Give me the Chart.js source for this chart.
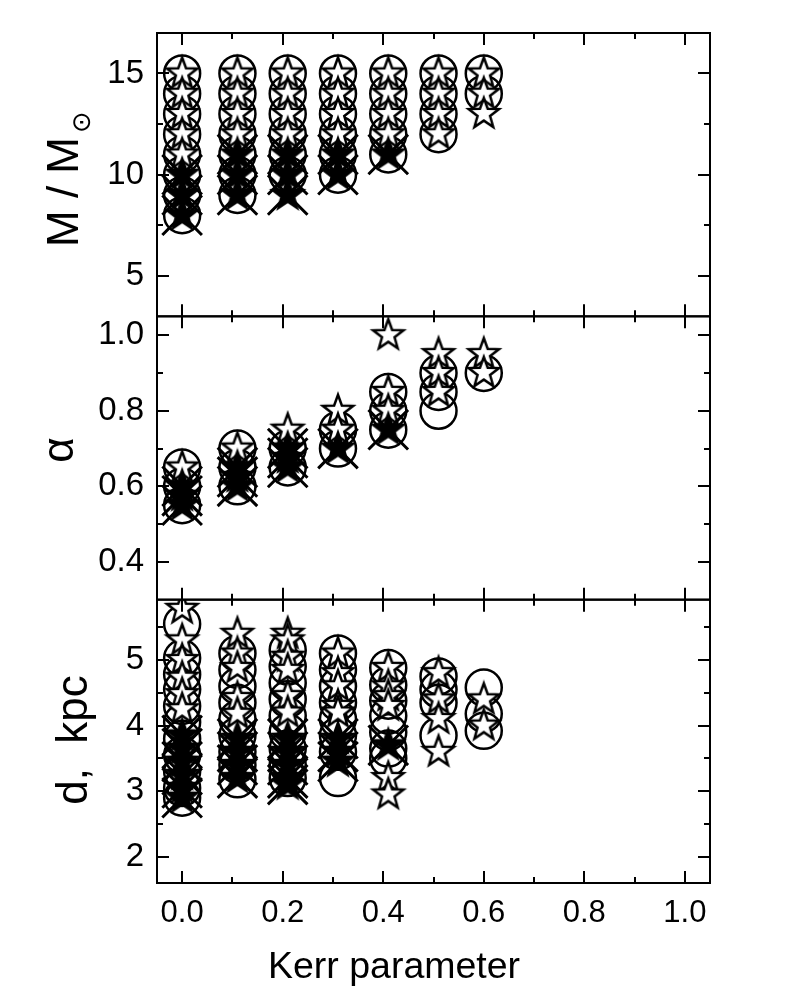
<!DOCTYPE html>
<html>
<head>
<meta charset="utf-8">
<script src="https://cdn.jsdelivr.net/npm/chart.js@4.4.0/dist/chart.umd.min.js"></script>
<style>
  html, body { margin: 0; padding: 0; background: #fff; }
  #wrap { width: 788px; height: 998px; }
</style>
</head>
<body>
<div id="wrap"><canvas id="chart" width="788" height="998"></canvas></div>
<script>
// Kerr parameter columns (x positions of the model grid)
const kerr = [0, 0.11, 0.21, 0.31, 0.41, 0.51, 0.60]
const xTicks = [0, 0.2, 0.4, 0.6, 0.8, 1.0]
const xMinor = [0.1, 0.3, 0.5, 0.7, 0.9]

// Top panel: M / Msun, one list per Kerr column
const massTicks = [5, 10, 15]
const massMinor = [7.5, 12.5]
const massCircles = [
  [15, 14, 13, 12, 11, 10, 9, 8],
  [15, 14, 13, 12, 11, 10, 9],
  [15, 14, 13, 12, 11, 10],
  [15, 14, 13, 12, 11, 10],
  [15, 14, 13, 12, 11],
  [15, 14, 13, 12],
  [15, 14]
]
const massStars = [
  [15, 14, 13, 12, 11],
  [15, 14, 13, 12],
  [15, 14, 13, 12],
  [15, 14, 13, 12],
  [15, 14, 13, 12],
  [15, 14, 13, 12],
  [15, 14, 13]
]
const massCrossed = [
  [10, 9, 8],
  [11, 10, 9],
  [11, 10, 9],
  [11, 10],
  [11],
  [],
  []
]

// Middle panel: alpha
const alphaTicks = [0.4, 0.6, 0.8, 1.0]
const alphaMinor = [0.5, 0.7, 0.9]
const alphaCircles = [
  [0.65, 0.6, 0.55],
  [0.7, 0.65, 0.6],
  [0.7, 0.65],
  [0.75, 0.7],
  [0.85, 0.8, 0.75],
  [0.9, 0.85, 0.8],
  [0.9]
]
const alphaStars = [
  [0.65],
  [0.7],
  [0.75],
  [0.8, 0.75],
  [1.0, 0.85, 0.8],
  [0.95, 0.9, 0.85],
  [0.95, 0.9]
]
const alphaCrossed = [
  [0.6, 0.575, 0.55],
  [0.65, 0.625, 0.6],
  [0.7, 0.675, 0.65],
  [0.7],
  [0.75],
  [],
  []
]

// Bottom panel: distance, kpc
const distTicks = [2, 3, 4, 5]
const distMinor = [2.5, 3.5, 4.5, 5.5]
const distCircles = [
  [5.55, 5.03, 4.78, 4.55, 4.3, 4.05, 3.8, 3.55, 3.3, 3.05, 2.9],
  [5.1, 4.85, 4.6, 4.35, 4.1, 3.85, 3.6, 3.4, 3.18],
  [5.15, 4.9, 4.65, 4.4, 4.15, 3.9, 3.65, 3.4, 3.2],
  [5.1, 4.85, 4.6, 4.35, 4.1, 3.85, 3.6, 3.2],
  [4.88, 4.62, 4.38, 4.15, 3.9, 3.65, 3.5],
  [4.75, 4.55, 4.35, 3.85],
  [4.58, 4.18, 3.92]
]
const distStars = [
  [5.78, 5.3, 5.0, 4.73, 4.48, 4.25],
  [5.4, 5.1, 4.88, 4.42, 4.18],
  [5.4, 5.3, 5.05, 4.85, 4.45, 4.2],
  [5.1, 4.8, 4.6, 4.3, 4.2],
  [4.88, 4.6, 4.45, 4.3, 3.2, 2.95],
  [4.8, 4.4, 4.1, 3.6],
  [4.4, 4.0]
]
const distCrossed = [
  [3.85, 3.65, 3.45, 3.25, 3.05, 2.9],
  [3.8, 3.6, 3.4, 3.2],
  [3.8, 3.6, 3.4, 3.2, 3.1],
  [3.8, 3.6, 3.45],
  [3.7],
  [],
  []
]

const FONT = '"Liberation Sans", Arial, sans-serif'

function toPoints(cols) {
  return cols.flatMap((ys, i) => ys.map(y => ({ x: kerr[i], y: y })))
}

// five-pointed star marker drawn on a small canvas
function starMarker(fill) {
  const R = 16, r = 6.6, size = 40
  const cv = document.createElement('canvas')
  cv.width = size
  cv.height = size
  const g = cv.getContext('2d')
  g.translate(size / 2, size / 2)
  g.beginPath()
  for (let i = 0; i < 10; i++) {
    const rad = i % 2 ? r : R
    const ang = -Math.PI / 2 + i * Math.PI / 5
    g.lineTo(rad * Math.cos(ang), rad * Math.sin(ang))
  }
  g.closePath()
  g.fillStyle = fill
  g.fill()
  g.lineWidth = 2.5
  g.strokeStyle = '#000'
  g.stroke()
  return cv
}

const openStar = starMarker('#fff')
const fullStar = starMarker('#000')

function panelDatasets(axis, circles, stars, crossed) {
  return [
    {
      data: toPoints(crossed), yAxisID: axis, order: 0,
      pointStyle: 'crossRot', pointRadius: 28, borderColor: '#000', borderWidth: 3,
      backgroundColor: 'rgba(0,0,0,0)'
    },
    {
      data: toPoints(crossed), yAxisID: axis, order: 1,
      pointStyle: fullStar, pointRadius: 16, borderColor: '#000', backgroundColor: '#000'
    },
    {
      data: toPoints(stars), yAxisID: axis, order: 2,
      pointStyle: openStar, pointRadius: 16, borderColor: '#000', backgroundColor: '#fff'
    },
    {
      data: toPoints(circles), yAxisID: axis, order: 3,
      pointStyle: 'circle', pointRadius: 18, borderColor: '#000', borderWidth: 2.5,
      backgroundColor: 'rgba(0,0,0,0)'
    }
  ]
}

const panels = [
  { id: 'yM', major: massTicks, minor: massMinor },
  { id: 'yA', major: alphaTicks, minor: alphaMinor },
  { id: 'yD', major: distTicks, minor: distMinor }
]

function yAxis(min, max, ticks, fmt) {
  return {
    type: 'linear', position: 'left', stack: 'panels', stackWeight: 1,
    min: min, max: max,
    grid: { display: false, drawTicks: false },
    border: { display: false },
    afterBuildTicks: s => { s.ticks = ticks.map(v => ({ value: v })) },
    afterFit: s => { s.width = 157 },
    ticks: {
      padding: 13, color: '#000', font: { family: FONT, size: 33 },
      callback: v => fmt(v)
    }
  }
}

// frame, inward tick marks, per-panel clipping and axis titles
const framePlugin = {
  id: 'frame',
  beforeDatasetDraw(chart, args) {
    const a = chart.chartArea
    const s = args.meta.yScale
    const ctx = chart.ctx
    ctx.save()
    ctx.beginPath()
    ctx.rect(a.left, s.top, a.right - a.left, s.bottom - s.top)
    ctx.clip()
  },
  afterDatasetDraw(chart) {
    chart.ctx.restore()
  },
  afterDatasetsDraw(chart) {
    const ctx = chart.ctx
    const a = chart.chartArea
    const x = chart.scales.x
    ctx.save()
    ctx.strokeStyle = '#000'
    ctx.lineWidth = 2
    panels.forEach(p => {
      const s = chart.scales[p.id]
      const top = s.top, bot = s.bottom
      ctx.strokeRect(a.left, top, a.right - a.left, bot - top)
      ctx.beginPath()
      const xt = (list, len) => list.forEach(v => {
        const px = Math.round(x.getPixelForValue(v))
        ctx.moveTo(px, top); ctx.lineTo(px, top + len)
        ctx.moveTo(px, bot); ctx.lineTo(px, bot - len)
      })
      const yt = (list, len) => list.forEach(v => {
        const py = Math.round(s.getPixelForValue(v))
        ctx.moveTo(a.left, py); ctx.lineTo(a.left + len, py)
        ctx.moveTo(a.right, py); ctx.lineTo(a.right - len, py)
      })
      xt(xTicks, 12); xt(xMinor, 6)
      yt(p.major, 12); yt(p.minor, 6)
      ctx.stroke()
    })
    ctx.restore()
  },
  afterDraw(chart) {
    const ctx = chart.ctx
    ctx.save()
    ctx.fillStyle = '#000'
    ctx.textBaseline = 'alphabetic'

    // x title
    ctx.font = '37.5px ' + FONT
    ctx.textAlign = 'center'
    ctx.fillText('Kerr parameter', 394, 978)

    // M / M_sun
    ctx.save()
    ctx.translate(78, 247)
    ctx.rotate(-Math.PI / 2)
    ctx.font = '44px ' + FONT
    ctx.textAlign = 'left'
    ctx.fillText('M / M', 0, 0)
    const w = ctx.measureText('M / M').width
    ctx.font = '26px "DejaVu Sans", sans-serif'
    ctx.fillText('\u2299', w + 4, 12)
    ctx.restore()

    // alpha
    ctx.save()
    ctx.translate(73, 450)
    ctx.rotate(-Math.PI / 2)
    ctx.font = '44px ' + FONT
    ctx.textAlign = 'center'
    ctx.fillText('\u03b1', 0, 0)
    ctx.restore()

    // d, kpc
    ctx.save()
    ctx.translate(87, 740)
    ctx.rotate(-Math.PI / 2)
    ctx.font = '44px ' + FONT
    ctx.textAlign = 'center'
    ctx.fillText('d,  kpc', 0, 0)
    ctx.restore()

    ctx.restore()
  }
}

new Chart(document.getElementById('chart'), {
  type: 'scatter',
  data: {
    datasets: [
      ...panelDatasets('yM', massCircles, massStars, massCrossed),
      ...panelDatasets('yA', alphaCircles, alphaStars, alphaCrossed),
      ...panelDatasets('yD', distCircles, distStars, distCrossed)
    ]
  },
  options: {
    responsive: false,
    animation: false,
    events: [],
    layout: { padding: { top: 33, right: 78, left: 0, bottom: 0 } },
    plugins: { legend: { display: false }, tooltip: { enabled: false } },
    scales: {
      x: {
        type: 'linear', position: 'bottom', min: -0.05, max: 1.05,
        grid: { display: false, drawTicks: false },
        border: { display: false },
        afterBuildTicks: s => { s.ticks = xTicks.map(v => ({ value: v })) },
        afterFit: s => { s.height = 115 },
        ticks: {
          padding: 12, color: '#000', font: { family: FONT, size: 31 },
          maxRotation: 0, autoSkip: false,
          callback: v => v.toFixed(1)
        }
      },
      // stacked axes are placed top-down in reverse order of definition
      yD: yAxis(1.6, 5.92, distTicks, v => String(v)),
      yA: yAxis(0.3, 1.05, alphaTicks, v => v.toFixed(1)),
      yM: yAxis(3, 17, massTicks, v => String(v))
    }
  },
  plugins: [framePlugin]
})
</script>
</body>
</html>
